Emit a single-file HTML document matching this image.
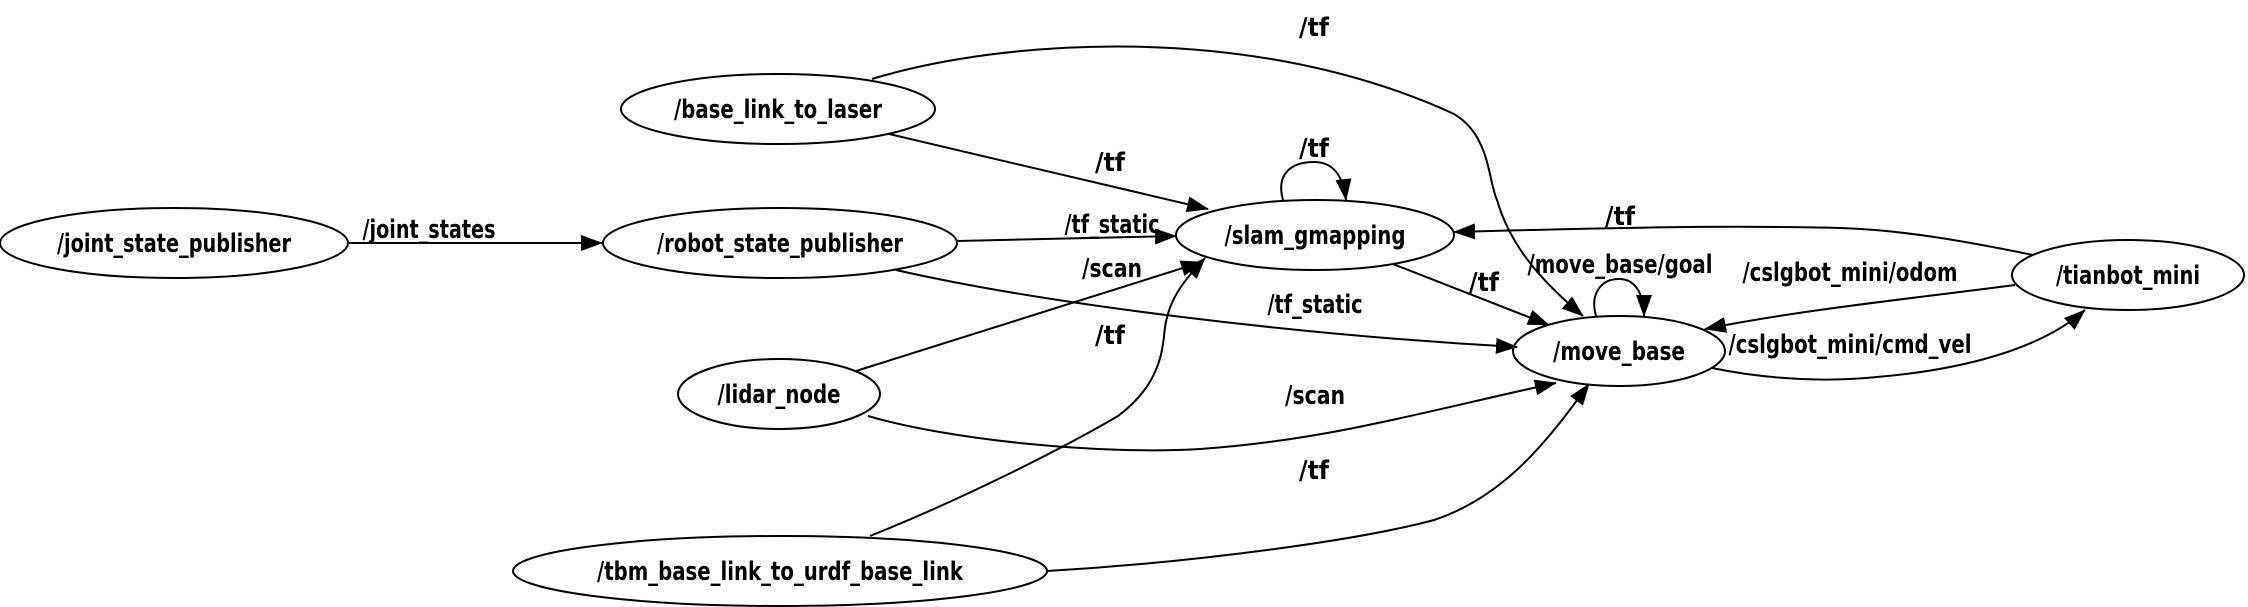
<!DOCTYPE html>
<html><head><meta charset="utf-8"><style>
html,body{margin:0;padding:0;background:#fff;}
svg{display:block;}
text{font-family:"DejaVu Sans Condensed","DejaVu Sans","Liberation Sans",sans-serif;font-weight:bold;font-size:26px;fill:#000;}
</style></head><body>
<svg width="2248" height="607" viewBox="0 0 2248 607" xmlns="http://www.w3.org/2000/svg">
<defs>
<marker id="a" markerWidth="22" markerHeight="16" refX="21" refY="8" orient="auto" markerUnits="userSpaceOnUse">
<path d="M0,0 L22,8 L0,16 Z" fill="#000"/>
</marker>
</defs>
<g fill="none" stroke="#000" stroke-width="2">
<ellipse cx="174" cy="243" rx="174" ry="35"/>
<ellipse cx="780" cy="243" rx="177" ry="35"/>
<ellipse cx="778" cy="109" rx="157" ry="35"/>
<ellipse cx="779" cy="394" rx="101" ry="35"/>
<ellipse cx="780" cy="571" rx="267" ry="35"/>
<ellipse cx="1315" cy="235" rx="139" ry="35"/>
<ellipse cx="1619" cy="351" rx="106" ry="35"/>
<ellipse cx="2128" cy="275" rx="116" ry="35"/>
</g>
<g fill="none" stroke="#000" stroke-width="2" marker-end="url(#a)">
<path d="M348,243 L602,243"/>
<path d="M872,79 C1000,40 1250,20 1454,114 C1490,135 1488,180 1497,200 C1510,245 1540,280 1583,316"/>
<path d="M889,134 L1208,209"/>
<path d="M957,241 L1176,236"/>
<path d="M896,270 C1050,305 1300,335 1517,347"/>
<path d="M856,371 L1202,262"/>
<path d="M868,416 C950,440 1100,455 1200,449 C1330,440 1430,410 1556,383"/>
<path d="M870,536 C960,500 1060,450 1118,416 C1160,385 1162,350 1164,337 C1166,300 1185,280 1205,258"/>
<path d="M1047,571 C1200,562 1360,540 1434,520 C1510,495 1555,430 1589,384"/>
<path d="M1283,200 C1276,175 1290,162 1314,162 C1333,162 1343,175 1346,200"/>
<path d="M1393,264 L1549,325"/>
<path d="M1596,316 C1590,295 1600,279 1619,279 C1636,279 1644,295 1644,316"/>
<path d="M2033,255 C1960,240 1900,230 1841,228 C1720,225 1600,228 1454,232"/>
<path d="M2015,285 C1900,300 1800,310 1705,329"/>
<path d="M1712,368 C1770,380 1830,382 1877,377 C1960,370 2040,350 2085,310"/>
</g>
<g text-anchor="middle">
<text x="174" y="252" textLength="234" lengthAdjust="spacingAndGlyphs">/joint_state_publisher</text>
<text x="780" y="252" textLength="246" lengthAdjust="spacingAndGlyphs">/robot_state_publisher</text>
<text x="778" y="118" textLength="208" lengthAdjust="spacingAndGlyphs">/base_link_to_laser</text>
<text x="779" y="403" textLength="123" lengthAdjust="spacingAndGlyphs">/lidar_node</text>
<text x="780" y="580" textLength="366" lengthAdjust="spacingAndGlyphs">/tbm_base_link_to_urdf_base_link</text>
<text x="1315" y="244" textLength="181" lengthAdjust="spacingAndGlyphs">/slam_gmapping</text>
<text x="1619" y="360" textLength="132" lengthAdjust="spacingAndGlyphs">/move_base</text>
<text x="2128" y="284" textLength="144" lengthAdjust="spacingAndGlyphs">/tianbot_mini</text>

<text x="429" y="238" textLength="133" lengthAdjust="spacingAndGlyphs">/joint_states</text>
<text x="1314" y="36" textLength="30" lengthAdjust="spacingAndGlyphs">/tf</text>
<text x="1110" y="171" textLength="30" lengthAdjust="spacingAndGlyphs">/tf</text>
<text x="1112" y="233" textLength="95" lengthAdjust="spacingAndGlyphs">/tf_static</text>
<text x="1112" y="277" textLength="60" lengthAdjust="spacingAndGlyphs">/scan</text>
<text x="1110" y="344" textLength="30" lengthAdjust="spacingAndGlyphs">/tf</text>
<text x="1315" y="313" textLength="95" lengthAdjust="spacingAndGlyphs">/tf_static</text>
<text x="1315" y="404" textLength="60" lengthAdjust="spacingAndGlyphs">/scan</text>
<text x="1314" y="479" textLength="30" lengthAdjust="spacingAndGlyphs">/tf</text>
<text x="1314" y="157" textLength="30" lengthAdjust="spacingAndGlyphs">/tf</text>
<text x="1484" y="291" textLength="30" lengthAdjust="spacingAndGlyphs">/tf</text>
<text x="1620" y="273" textLength="185" lengthAdjust="spacingAndGlyphs">/move_base/goal</text>
<text x="1620" y="225" textLength="30" lengthAdjust="spacingAndGlyphs">/tf</text>
<text x="1850" y="281" textLength="215" lengthAdjust="spacingAndGlyphs">/cslgbot_mini/odom</text>
<text x="1850" y="353" textLength="243" lengthAdjust="spacingAndGlyphs">/cslgbot_mini/cmd_vel</text>
</g>
</svg>
</body></html>
